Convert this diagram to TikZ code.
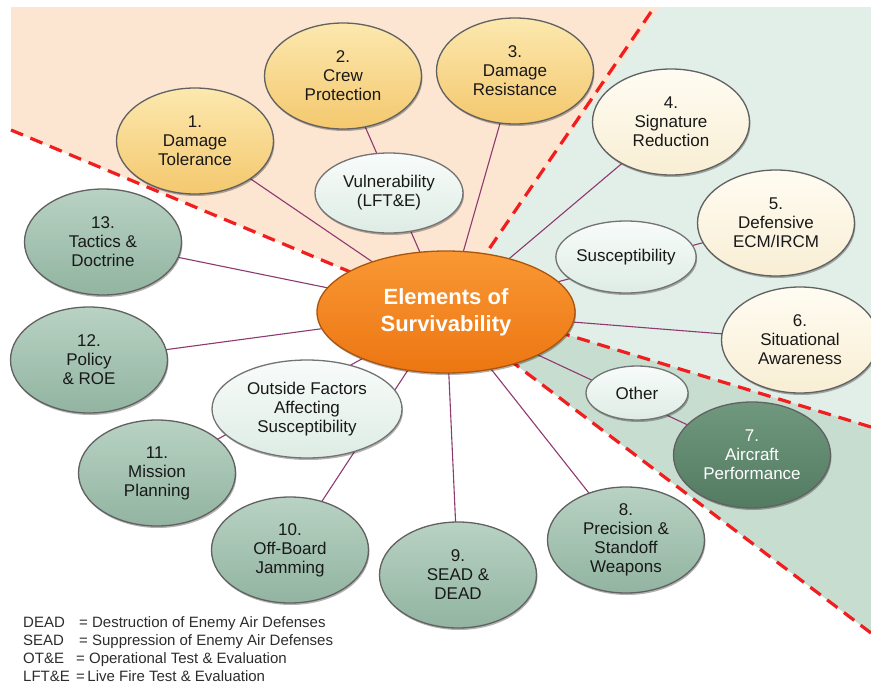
\documentclass[tikz,border=0pt]{standalone}
\usepackage{fontspec}
\setmainfont{Liberation Sans}
\usetikzlibrary{shapes.geometric,shadows}
\definecolor{peachbg}{RGB}{252,229,209}
\definecolor{mintbg}{RGB}{226,238,232}
\definecolor{sagebg}{RGB}{198,221,208}
\definecolor{dashred}{RGB}{240,30,30}
\definecolor{edgecol}{RGB}{142,58,112}
\definecolor{goldT}{RGB}{252,232,175}
\definecolor{goldB}{RGB}{244,200,110}
\definecolor{creamT}{RGB}{255,252,242}
\definecolor{creamB}{RGB}{248,238,212}
\definecolor{sageT}{RGB}{184,210,195}
\definecolor{sageB}{RGB}{146,180,161}
\definecolor{darkT}{RGB}{112,152,127}
\definecolor{darkB}{RGB}{82,123,98}
\definecolor{lightT}{RGB}{248,252,250}
\definecolor{lightB}{RGB}{222,236,229}
\definecolor{orangeT}{RGB}{249,152,52}
\definecolor{orangeB}{RGB}{236,118,18}
\definecolor{orangeD}{RGB}{170,85,12}
\definecolor{legendcol}{RGB}{45,45,45}
\pgfdeclarelayer{bg}
\pgfdeclarelayer{edges}
\pgfsetlayers{bg,edges,main}
\begin{document}
\begin{tikzpicture}[x=1pt,y=-1pt,
  ell/.style={ellipse, draw=black!62, line width=1.3pt, inner sep=0pt, align=center,
    font=\fontsize{17}{19}\selectfont, text=black!90,
    drop shadow={shadow xshift=1pt, shadow yshift=-2pt, opacity=0.3, fill=black}},
  numbered/.style={ell, minimum width=157, minimum height=106},
  goldn/.style={numbered, top color=goldT, bottom color=goldB},
  creamn/.style={numbered, top color=creamT, bottom color=creamB},
  sagen/.style={numbered, top color=sageT, bottom color=sageB},
  darkn/.style={numbered, top color=darkT, bottom color=darkB, text=white},
  catn/.style={ell, top color=lightT, bottom color=lightB, draw=black!55},
  edge/.style={draw=edgecol, line width=1.1pt},
  divider/.style={draw=dashred, line width=3.2pt, dash pattern=on 13pt off 8pt},
  legend/.style={anchor=base west, inner sep=0pt, text=legendcol, font=\fontsize{15}{17}\selectfont}
]
\useasboundingbox (0,0) rectangle (871,683);

% nodes
\node[ell, minimum width=258, minimum height=122, top color=orangeT, bottom color=orangeB,
  draw=orangeD, text=white, font=\fontsize{22}{27}\selectfont\bfseries] (c) at (446,312) {Elements of\\Survivability};

\node[goldn] (n1) at (195,141) {1.\\Damage\\Tolerance};
\node[goldn] (n2) at (343,76) {2.\\Crew\\Protection};
\node[goldn] (n3) at (515,71) {3.\\Damage\\Resistance};
\node[creamn] (n4) at (671,122) {4.\\Signature\\Reduction};
\node[creamn] (n5) at (776,223) {5.\\Defensive\\ECM/IRCM};
\node[creamn] (n6) at (800,340) {6.\\Situational\\Awareness};
\node[darkn] (n7) at (752,455) {7.\\Aircraft\\Performance};
\node[sagen] (n8) at (626,540) {8.\\Precision \&\\Standoff\\Weapons};
\node[sagen] (n9) at (458,575) {9.\\SEAD \&\\DEAD};
\node[sagen] (n10) at (290,550) {10.\\Off-Board\\Jamming};
\node[sagen] (n11) at (157,473) {11.\\Mission\\Planning};
\node[sagen] (n12) at (89,360) {12.\\Policy\\\& ROE};
\node[sagen] (n13) at (103,242) {13.\\Tactics \&\\Doctrine};

\node[catn, minimum width=148, minimum height=80] (vul) at (389,193) {Vulnerability\\(LFT\&E)};
\node[catn, minimum width=138, minimum height=72] (sus) at (626,257) {Susceptibility};
\node[catn, minimum width=190, minimum height=98] (out) at (307,409) {Outside Factors\\Affecting\\Susceptibility};
\node[catn, minimum width=102, minimum height=54] (oth) at (637,393) {Other};

% legend
\node[legend] (k1) at (23,627) {DEAD};
\node[legend] (d1) at (79,627) {= Destruction of Enemy Air Defenses};
\node[legend] (k2) at (23,645) {SEAD};
\node[legend] (d2) at (79,645) {= Suppression of Enemy Air Defenses};
\node[legend] (k3) at (23,663) {OT\&E};
\node[legend] (d3) at (76,663) {= Operational Test \& Evaluation};
\node[legend] (k4) at (23,681) {LFT\&E};
\node[legend] (d4) at (76,681) {=\,Live Fire Test \& Evaluation};

% connectors
\begin{pgfonlayer}{edges}
\foreach \n in {n1,n2,n3,n4,n5,n6,n7,n8,n9,n10,n11,n12,n13}
  \draw[edge] (c.center) -- (\n.center);
\end{pgfonlayer}

% background regions
\begin{pgfonlayer}{bg}
\fill[white] (0,0) rectangle (871,683);
\coordinate (C) at (446,312);
\fill[peachbg] (C) -- (11,130) -- (11,7) -- (660,7) -- cycle;
\fill[mintbg] (C) -- (660,7) -- (871,7) -- (871,427) -- (446,298) -- cycle;
\fill[sagebg] (C) -- (446,298) -- (871,427) -- (871,633) -- cycle;
\draw[divider] (11,130) -- (C);
\draw[divider] (651,12) -- (C);
\draw[divider] (871,427) -- (446,298);
\draw[divider] (871,633) -- (C);
\end{pgfonlayer}
\end{tikzpicture}
\end{document}
